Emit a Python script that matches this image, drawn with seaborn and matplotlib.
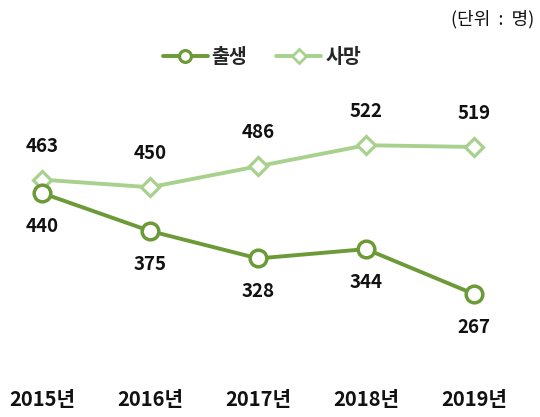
import matplotlib
matplotlib.use("Agg")
import matplotlib.pyplot as plt
import seaborn as sns
import pandas as pd
from matplotlib.lines import Line2D

years = ["2015년", "2016년", "2017년", "2018년", "2019년"]
births = [440, 375, 328, 344, 267]
deaths = [463, 450, 486, 522, 519]

BIRTH_COLOR = "#6b9a37"
DEATH_COLOR = "#a9d18e"

sns.set_theme(style="white")
plt.rcParams["font.family"] = ["Noto Sans CJK KR", "DejaVu Sans"]

fig = plt.figure(figsize=(5.4, 4.17), dpi=100)
ax = fig.add_axes([0, 0.1367, 1, 0.7194])

df = pd.DataFrame({"idx": range(len(years)), "year": years,
                   "출생": births, "사망": deaths})

sns.lineplot(data=df, x="idx", y="사망", ax=ax, color=DEATH_COLOR,
             linewidth=2.8, marker="D", markersize=9.5,
             markerfacecolor="white", markeredgecolor=DEATH_COLOR,
             markeredgewidth=2.3, zorder=2)
sns.lineplot(data=df, x="idx", y="출생", ax=ax, color=BIRTH_COLOR,
             linewidth=2.8, marker="o", markersize=12,
             markerfacecolor="white", markeredgecolor=BIRTH_COLOR,
             markeredgewidth=2.5, zorder=3)

for i, (b, d) in enumerate(zip(births, deaths)):
    ax.annotate(str(d), (i, d), xytext=(0, 24), textcoords="offset points",
                ha="center", va="center", fontsize=13.5, fontweight="bold",
                color="#111111")
    ax.annotate(str(b), (i, b), xytext=(0, -24), textcoords="offset points",
                ha="center", va="center", fontsize=13.5, fontweight="bold",
                color="#111111")

ax.set_xlim(-0.389, 4.611)
ax.set_ylim(154, 668)
ax.set_xticks(range(len(years)))
ax.set_xticklabels(years, fontsize=14.5, fontweight="bold", color="#111111")
ax.tick_params(axis="x", length=0, pad=21)
ax.set_yticks([])
ax.set_xlabel("")
ax.set_ylabel("")
for s in ax.spines.values():
    s.set_visible(False)

handles = [
    Line2D([], [], color=BIRTH_COLOR, lw=2.8, marker="o", markersize=8.5,
           markerfacecolor="white", markeredgecolor=BIRTH_COLOR, markeredgewidth=2.3),
    Line2D([], [], color=DEATH_COLOR, lw=2.8, marker="D", markersize=7.5,
           markerfacecolor="white", markeredgecolor=DEATH_COLOR, markeredgewidth=2),
]
fig.legend(handles, ["출생", "사망"], loc="center", bbox_to_anchor=(0.485, 0.862),
           ncol=2, frameon=False, handlelength=2.3, handletextpad=0.2,
           columnspacing=1.5, prop={"weight": "bold", "size": 14})

fig.text(0.99, 0.953, "(단위  :  명)", ha="right", va="center", fontsize=13,
         color="#111111")

fig.savefig("out.png", dpi=100)
